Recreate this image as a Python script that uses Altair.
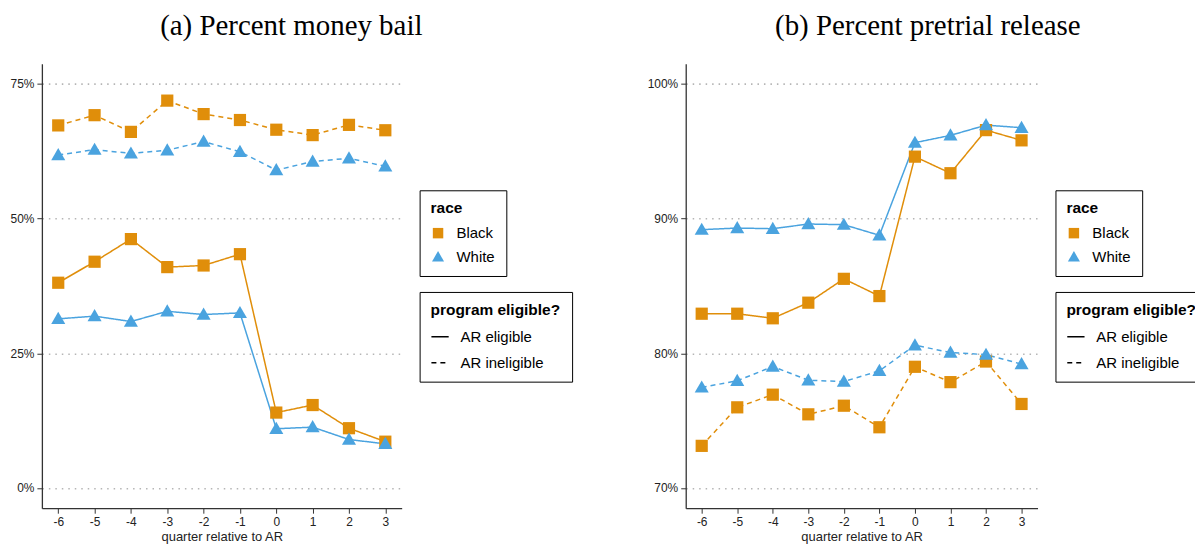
import altair as alt
import pandas as pd

quarters = [-6, -5, -4, -3, -2, -1, 0, 1, 2, 3]

# (a) Percent money bail
bail_black_elig = [38.1, 42.0, 46.2, 41.0, 41.3, 43.4, 14.0, 15.4, 11.1, 8.6]
bail_white_elig = [31.4, 31.9, 30.9, 32.8, 32.2, 32.5, 11.0, 11.3, 9.0, 8.2]
bail_black_inel = [67.3, 69.2, 66.1, 71.9, 69.4, 68.3, 66.5, 65.5, 67.4, 66.4]
bail_white_inel = [61.8, 62.8, 62.1, 62.7, 64.3, 62.4, 59.0, 60.6, 61.2, 59.7]

# (b) Percent pretrial release
rel_black_elig = [82.94, 82.94, 82.6, 83.76, 85.53, 84.25, 94.6, 93.37, 96.57, 95.81]
rel_white_elig = [89.18, 89.3, 89.25, 89.6, 89.55, 88.76, 95.64, 96.18, 96.94, 96.75]
rel_black_inel = [73.13, 75.99, 76.93, 75.47, 76.11, 74.51, 79.0, 77.86, 79.39, 76.24]
rel_white_inel = [77.47, 77.96, 79.02, 78.0, 77.9, 78.7, 80.6, 80.06, 79.9, 79.2]

races = ["Black", "White"]
eligs = ["AR eligible", "AR ineligible"]
race_colors = ["#E08E0A", "#4AA3DF"]

bail_ticks = [0, 25, 50, 75]
rel_ticks = [70, 80, 90, 100]


def make_df(be, we, bi, wi):
    rows = []
    for series, race, elig in [(be, "Black", "AR eligible"), (we, "White", "AR eligible"),
                               (bi, "Black", "AR ineligible"), (wi, "White", "AR ineligible")]:
        for q, v in zip(quarters, series):
            rows.append({"quarter": q, "value": v, "race": race, "elig": elig,
                         "grp": race + "|" + elig})
    return pd.DataFrame(rows)


FONT = "Liberation Sans"
TRI = "M0,-1.15L1.15,0.85L-1.15,0.85Z"


def race_legend(width):
    return alt.Legend(title="race", orient="none", legendX=width + 18, legendY=127,
                      strokeColor="black", padding=11, titleFontSize=15.5, labelFontSize=15,
                      titleFont=FONT, labelFont=FONT, titleColor="black", labelColor="black",
                      symbolSize=110, rowPadding=8, titlePadding=9, symbolStrokeWidth=0,
                      labelOffset=11)


def panel(df, title, ticks, domain, width):
    x = alt.X("quarter:Q", scale=alt.Scale(domain=[-6.45, 3.45], nice=False, zero=False),
              axis=alt.Axis(values=quarters, title="quarter relative to AR", grid=False,
                            labelExpr="datum.value < 0 ? '-' + abs(datum.value) : '' + datum.value",
                            labelFontSize=12, titleFontSize=13, titleFontWeight="normal",
                            labelColor="#222", titleColor="#222", domainColor="#333",
                            domainWidth=1.3, tickColor="#333", tickSize=5, labelPadding=3,
                            titlePadding=3, labelFont=FONT, titleFont=FONT, labelFlush=False))
    y = alt.Y("value:Q", scale=alt.Scale(domain=domain, nice=False, zero=False),
              axis=alt.Axis(values=ticks, title=None, grid=True, gridDash=[1.5, 5],
                            gridColor="#b5b5b5", gridWidth=1.6, labelExpr="datum.value + '%'",
                            labelFontSize=12, labelColor="#222", domainColor="#333",
                            domainWidth=1.3, tickColor="#333", tickSize=5, labelPadding=3,
                            labelFont=FONT))
    color = alt.Color("race:N", scale=alt.Scale(domain=races, range=race_colors),
                      legend=race_legend(width))
    shape = alt.Shape("race:N", scale=alt.Scale(domain=races, range=["square", TRI]),
                      legend=race_legend(width))
    dash = alt.StrokeDash("elig:N", scale=alt.Scale(domain=eligs, range=[[1, 0], [5, 4]]),
                          legend=alt.Legend(title="program eligible?", orient="none",
                                            legendX=width + 18, legendY=229,
                                            strokeColor="black", padding=11, titleFontSize=15.5,
                                            labelFontSize=15, titleFont=FONT, labelFont=FONT,
                                            titleColor="black", labelColor="black",
                                            symbolType="stroke", symbolStrokeColor="black",
                                            symbolStrokeWidth=1.5, symbolSize=300,
                                            rowPadding=8, titlePadding=9, labelOffset=11))
    base = alt.Chart(df)
    lines = base.mark_line(strokeWidth=1.5).encode(
        x=x, y=y, color=color, strokeDash=dash, detail="grp:N")
    pts = base.mark_point(filled=True, opacity=1, size=150).encode(
        x=x, y=y, color=color, shape=shape)
    return alt.layer(lines, pts).properties(
        width=width, height=446,
        title=alt.TitleParams(title, font="Liberation Serif", fontSize=29, fontWeight="normal",
                              color="black", anchor="middle", frame="bounds", offset=23))


bail_df = make_df(bail_black_elig, bail_white_elig, bail_black_inel, bail_white_inel)
rel_df = make_df(rel_black_elig, rel_white_elig, rel_black_inel, rel_white_inel)

left = panel(bail_df, "(a) Percent money bail", bail_ticks, [-3.75, 78.75], 361)
right = panel(rel_df, "(b) Percent pretrial release", rel_ticks, [68.5, 101.5], 353)

chart = alt.hconcat(left, right, spacing=74).resolve_scale(
    color="independent", shape="independent", strokeDash="independent"
).properties(
    padding={"left": 1, "top": 3, "right": -14, "bottom": 0}
).configure_view(stroke=None)

chart.save("out.html", embed_options={"renderer": "svg", "actions": False})
